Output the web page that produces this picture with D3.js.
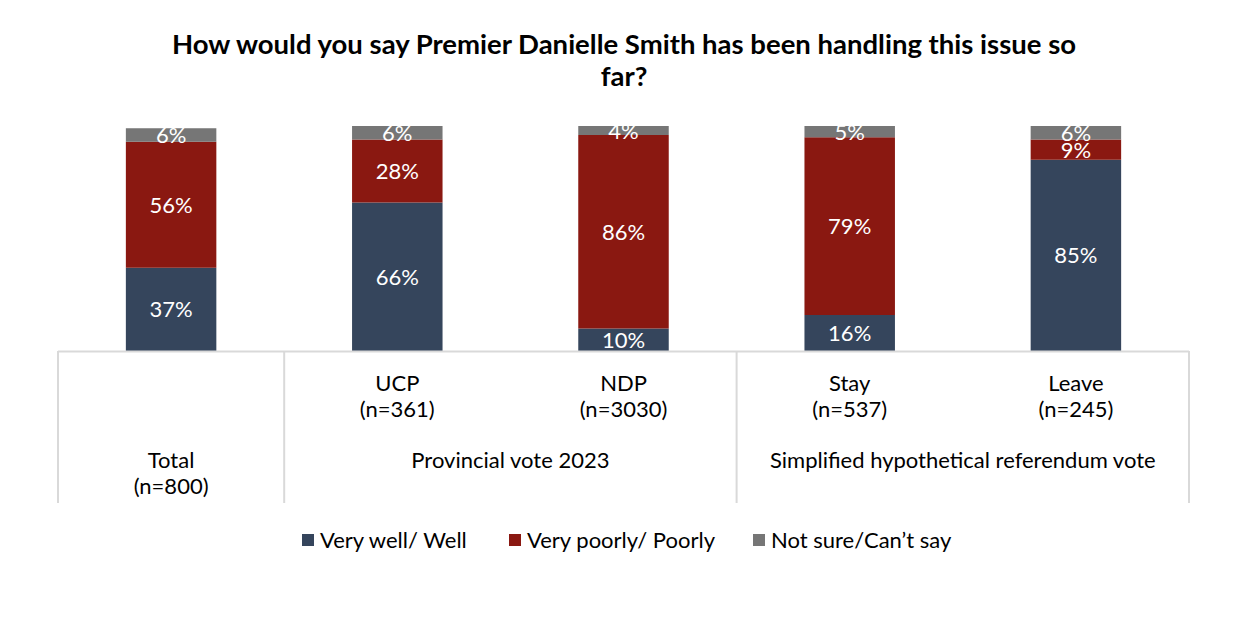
<!DOCTYPE html>
<html>
<head>
<meta charset="utf-8">
<script src="https://cdn.jsdelivr.net/npm/d3@7"></script>
<style>
  body { margin: 0; background: #fff; }
  text { font-family: Lato, "Open Sans", sans-serif; }
</style>
</head>
<body>
<div id="chart"></div>
<script>
// Data
var categories = ["Total", "UCP", "NDP", "Stay", "Leave"];
var sampleSizes = ["(n=800)", "(n=361)", "(n=3030)", "(n=537)", "(n=245)"];
var wellValues = [37, 66, 10, 16, 85];
var poorlyValues = [56, 28, 86, 79, 9];
var notSureValues = [6, 6, 4, 5, 6];
var seriesNames = ["Very well/ Well", "Very poorly/ Poorly", "Not sure/Can\u2019t say"];
var groupNames = ["Provincial vote 2023", "Simplified hypothetical referendum vote"];
var groupMembers = [[1, 2], [3, 4]];

var colors = ["#35455c", "#8a1811", "#767676"];
var width = 1248, height = 622;
var plotLeft = 58, plotRight = 1189, plotTop = 126, plotBottom = 351, tableBottom = 503;

var svg = d3.select("#chart").append("svg")
    .attr("width", width)
    .attr("height", height);

// Title
var title = svg.append("text")
    .attr("text-anchor", "middle")
    .attr("font-size", "27.5px")
    .attr("font-weight", "bold")
    .attr("fill", "#000");
title.append("tspan").attr("x", 624).attr("y", 54)
    .text("How would you say Premier Danielle Smith has been handling this issue so");
title.append("tspan").attr("x", 624).attr("y", 86).text("far?");

// Scales
var xScale = d3.scaleBand()
    .domain(categories)
    .range([plotLeft, plotRight])
    .paddingInner(0.6)
    .paddingOuter(0.3);
var yScale = d3.scaleLinear()
    .domain([0, 100])
    .range([plotBottom, plotTop]);

// Stack the series
var rows = categories.map(function(c, i) {
    return { cat: c, well: wellValues[i], poorly: poorlyValues[i], notsure: notSureValues[i] };
});
var stack = d3.stack().keys(["well", "poorly", "notsure"]);
var layers = stack(rows);

var layerG = svg.selectAll(".layer")
    .data(layers)
    .enter()
    .append("g")
    .attr("class", "layer")
    .attr("fill", function(d, i) { return colors[i]; });

layerG.selectAll("rect")
    .data(function(d) { return d; })
    .enter()
    .append("rect")
    .attr("x", function(d) { return xScale(d.data.cat); })
    .attr("y", function(d) { return yScale(d[1]); })
    .attr("width", xScale.bandwidth())
    .attr("height", function(d) { return yScale(d[0]) - yScale(d[1]); });

// Value labels
layerG.selectAll(".label")
    .data(function(d) { return d; })
    .enter()
    .append("text")
    .attr("class", "label")
    .attr("x", function(d) { return xScale(d.data.cat) + xScale.bandwidth() / 2; })
    .attr("y", function(d) {
        var mid = (yScale(d[0]) + yScale(d[1])) / 2;
        return Math.min(mid, plotBottom - 9) + 8;
    })
    .attr("text-anchor", "middle")
    .attr("font-size", "22px")
    .attr("fill", "#fff")
    .text(function(d) { return (d[1] - d[0]) + "%"; });

// Category table lines
var lineColor = "#d9d9d9";
var step = xScale.step();
var edge = function(i) { return plotLeft + i * step; };
svg.append("line")
    .attr("x1", plotLeft).attr("x2", plotRight)
    .attr("y1", plotBottom + 0.5).attr("y2", plotBottom + 0.5)
    .attr("stroke", lineColor).attr("stroke-width", 2);
[0, 1, 3, 5].forEach(function(i) {
    svg.append("line")
        .attr("x1", edge(i)).attr("x2", edge(i))
        .attr("y1", plotBottom).attr("y2", tableBottom)
        .attr("stroke", lineColor).attr("stroke-width", 2);
});

// Category labels
categories.forEach(function(c, i) {
    var cx = xScale(c) + xScale.bandwidth() / 2;
    var y0 = i === 0 ? 468 : 391;
    var t = svg.append("text")
        .attr("text-anchor", "middle")
        .attr("font-size", "22px")
        .attr("fill", "#000");
    t.append("tspan").attr("x", cx).attr("y", y0).text(c);
    t.append("tspan").attr("x", cx).attr("y", y0 + 26).text(sampleSizes[i]);
});

// Group labels
groupNames.forEach(function(g, i) {
    var m = groupMembers[i];
    var cx = (edge(m[0]) + edge(m[1] + 1)) / 2;
    svg.append("text")
        .attr("x", cx).attr("y", 468)
        .attr("text-anchor", "middle")
        .attr("font-size", "22px")
        .attr("fill", "#000")
        .text(g);
});

// Legend
var legendX = [302, 509, 753];
var legend = svg.selectAll(".legend")
    .data(seriesNames)
    .enter()
    .append("g")
    .attr("class", "legend")
    .attr("transform", function(d, i) { return "translate(" + legendX[i] + ",540)"; });
legend.append("rect")
    .attr("x", 0).attr("y", -6)
    .attr("width", 12).attr("height", 12)
    .attr("fill", function(d, i) { return colors[i]; });
legend.append("text")
    .attr("x", 18).attr("y", 8)
    .attr("font-size", "22px")
    .attr("fill", "#000")
    .text(function(d) { return d; });
</script>
</body>
</html>
